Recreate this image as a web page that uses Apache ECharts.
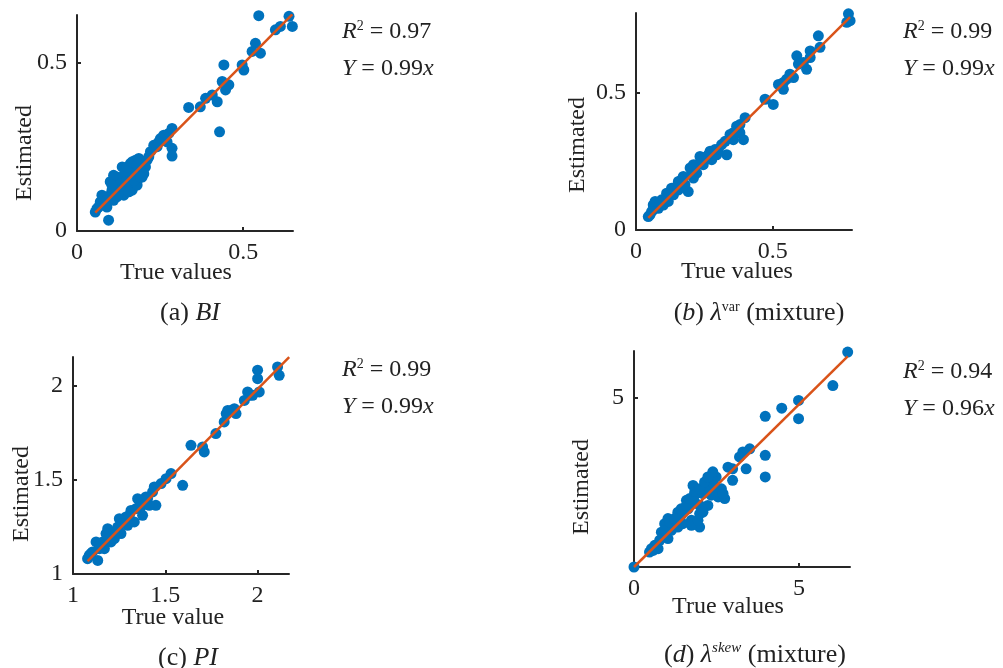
<!DOCTYPE html>
<html>
<head>
<meta charset="utf-8">
<title>Estimated vs true</title>
<script src="https://cdn.jsdelivr.net/npm/echarts@6/dist/echarts.min.js"></script>
<style>
	html,body{margin:0;padding:0;background:#fff;}
	#main{width:1003px;height:668px;}
</style>
</head>
<body>
<div id="main"></div>
<script>
// (a) BI
var bi_true = [0.547,0.638,0.648,0.597,0.612,0.537,0.527,0.552,0.497,0.502,0.442,0.437,0.457,0.447,0.422,0.407,0.387,0.371,0.336,0.429,
	0.286,0.276,0.261,0.251,0.231,0.286,0.286,0.216,0.201,0.176,0.161,0.156,0.191,0.196,0.181,0.141,0.120,0.100,0.131,0.151,
	0.166,0.120,0.100,0.080,0.075,0.065,0.055,0.095,0.110,0.141,0.181,0.206,0.221,0.241,0.271,0.090,0.110,0.136,0.171,0.075,
	0.160,0.145,0.185,0.125,0.105,
	0.110,0.151,0.166,0.181,0.131,0.146,0.171,0.201,0.120,0.090,0.105,0.186,0.211,0.070,0.060,0.156,0.191,0.246];
var bi_est = [0.638,0.636,0.606,0.596,0.606,0.556,0.532,0.527,0.492,0.477,0.492,0.443,0.433,0.418,0.383,0.403,0.393,0.368,0.366,0.294,
	0.304,0.289,0.284,0.274,0.254,0.245,0.222,0.220,0.205,0.210,0.200,0.180,0.180,0.160,0.150,0.165,0.160,0.146,0.141,0.131,
	0.121,0.116,0.106,0.101,0.081,0.071,0.056,0.032,0.091,0.106,0.136,0.190,0.235,0.250,0.264,0.071,0.121,0.190,0.170,0.106,
	0.150,0.175,0.160,0.135,0.120,
	0.165,0.190,0.205,0.195,0.121,0.146,0.150,0.170,0.101,0.091,0.136,0.215,0.210,0.086,0.066,0.116,0.160,0.264];
// (b) lambda var
var var_true = [0.777,0.783,0.771,0.667,0.673,0.637,0.588,0.594,0.624,0.563,0.576,0.539,0.521,0.539,0.472,0.502,0.399,0.368,0.380,0.356,
	0.393,0.344,0.313,0.301,0.332,0.271,0.234,0.277,0.246,0.222,0.198,0.222,0.173,0.155,0.191,0.179,0.130,0.137,0.112,0.094,
	0.118,0.076,0.063,0.051,0.045,0.082,0.100,0.155,0.295,0.265,0.210,0.070,
	0.063,0.088,0.124,0.149,0.167,0.204,0.210,0.240,0.259,0.289,0.326,0.356,0.380,0.551,0.612,0.637,0.057];
var var_est = [0.787,0.762,0.756,0.707,0.665,0.652,0.634,0.604,0.585,0.567,0.555,0.537,0.530,0.512,0.476,0.457,0.409,0.378,0.354,0.329,
	0.329,0.348,0.311,0.293,0.274,0.287,0.268,0.256,0.238,0.238,0.226,0.207,0.195,0.177,0.140,0.165,0.152,0.128,0.134,0.110,
	0.104,0.091,0.073,0.055,0.049,0.079,0.091,0.146,0.274,0.274,0.189,0.104,
	0.091,0.098,0.128,0.159,0.183,0.207,0.238,0.256,0.268,0.293,0.323,0.354,0.384,0.549,0.610,0.628,0.067];
// (c) PI
var pi_true = [2.171,2.108,2.117,2.000,2.000,2.009,1.955,1.928,1.946,1.874,1.856,1.830,1.883,1.819,1.774,1.639,1.702,1.711,1.531,1.504,
	1.594,1.440,1.431,1.449,1.395,1.350,1.377,1.368,1.314,1.287,1.251,1.242,1.260,1.188,1.197,1.206,1.161,1.125,1.143,1.106,
	1.088,1.079,1.134,1.224,1.296,1.332,1.170,
	1.097,1.152,1.179,1.224,1.269,1.305,1.341,1.359,1.404,1.413,1.477,1.838,1.973];
var pi_est = [2.124,2.097,2.053,2.080,2.035,1.965,1.947,1.920,1.965,1.876,1.867,1.850,1.850,1.806,1.744,1.682,1.673,1.647,1.532,1.505,
	1.470,1.461,1.435,1.364,1.408,1.399,1.311,1.355,1.337,1.302,1.293,1.249,1.214,1.240,1.205,1.170,1.170,1.170,1.134,1.117,
	1.099,1.081,1.072,1.187,1.258,1.276,1.134,
	1.108,1.161,1.214,1.223,1.267,1.311,1.346,1.390,1.399,1.364,1.479,1.867,1.947];
// (d) lambda skew
var skew_true = [0,6.48,6.03,4.99,4.99,4.48,3.98,3.98,3.98,3.51,3.30,3.20,3.40,2.85,2.99,2.99,2.49,2.39,2.29,2.65,
	2.75,1.79,1.84,2.09,2.34,2.55,1.59,1.99,2.24,1.64,1.99,1.43,1.33,1.74,1.99,1.03,0.93,1.18,1.48,0.83,
	1.13,1.03,0.78,0.63,0.58,0.47,0.73,1.33,2.14,
	0.93,1.08,1.23,1.43,1.59,1.69,1.89,1.99,2.14,2.44,2.55,2.70,1.84,2.09,1.74,1.33,0.68,0.53,2.39,2.24,1.94];
var skew_est = [0,6.35,5.36,4.92,4.38,4.69,4.45,3.30,2.66,3.49,3.40,3.25,2.90,2.95,2.90,2.56,2.66,2.56,2.41,2.31,
	2.02,2.41,2.21,2.17,2.12,2.07,1.97,1.82,1.82,1.72,1.57,1.53,1.43,1.38,1.18,1.43,1.28,1.23,1.28,1.03,
	1.08,0.84,0.79,0.64,0.49,0.44,0.54,1.62,2.31,
	1.08,1.33,1.43,1.72,1.82,2.02,2.17,2.31,2.51,2.41,2.21,2.17,1.92,1.62,1.23,1.18,0.64,0.54,2.81,2.66,1.38];

// 拟合斜率 / R2
var slopes = [0.99, 0.99, 0.99, 0.96];
var r2s = ['0.97', '0.99', '0.99', '0.94'];

// 刻度
var x_ticks = [[0, 0.5], [0, 0.5], [1, 1.5, 2], [0, 5]];
var y_ticks = [[0, 0.5], [0, 0.5], [1, 1.5, 2], [5]];

var panels = [
	{x: bi_true, y: bi_est, xmin: 0, xmax: 0.65, ymin: 0, ymax: 0.64},
	{x: var_true, y: var_est, xmin: 0, xmax: 0.79, ymin: 0, ymax: 0.79},
	{x: pi_true, y: pi_est, xmin: 1, xmax: 2.17, ymin: 1, ymax: 2.15},
	{x: skew_true, y: skew_est, xmin: 0, xmax: 6.55, ymin: 0, ymax: 6.38}
];

var font = '"Liberation Serif", "Times New Roman", serif';
var grids = [
	{left: 77, top: 15, width: 216, height: 216},
	{left: 636, top: 13, width: 216, height: 217},
	{left: 73, top: 357, width: 216, height: 217},
	{left: 634, top: 351, width: 216, height: 216}
];

var xAxes = [], yAxes = [], series = [];
for (var i = 0; i < panels.length; i++) {
	var p = panels[i];
	xAxes.push({
		type: 'value', gridIndex: i, min: p.xmin, max: p.xmax,
		splitLine: {show: false},
		axisLine: {show: true, onZero: false, lineStyle: {color: '#262626', width: 2}},
		axisTick: {show: true, inside: true, length: 4, customValues: x_ticks[i], lineStyle: {color: '#262626', width: 2}},
		axisLabel: {customValues: x_ticks[i], color: '#222', fontFamily: font, fontSize: 24, margin: 10}
	});
	yAxes.push({
		type: 'value', gridIndex: i, min: p.ymin, max: p.ymax,
		splitLine: {show: false},
		axisLine: {show: true, onZero: false, lineStyle: {color: '#262626', width: 2}},
		axisTick: {show: true, inside: true, length: 4, customValues: y_ticks[i], lineStyle: {color: '#262626', width: 2}},
		axisLabel: {customValues: y_ticks[i], color: '#222', fontFamily: font, fontSize: 24, margin: 10}
	});
	var pts = [];
	var lo = Infinity, hi = -Infinity;
	for (var k = 0; k < p.x.length; k++) {
		pts.push([p.x[k], p.y[k]]);
		if (p.x[k] < lo) lo = p.x[k];
		if (p.x[k] > hi) hi = p.x[k];
	}
	series.push({
		type: 'scatter', xAxisIndex: i, yAxisIndex: i,
		symbolSize: 11, itemStyle: {color: '#0072BD', opacity: 1},
		data: pts, z: 2, silent: true
	});
	series.push({
		type: 'line', xAxisIndex: i, yAxisIndex: i,
		showSymbol: false, lineStyle: {color: '#D95319', width: 2.5},
		data: [[lo, slopes[i] * lo], [hi, slopes[i] * hi]], z: 3, silent: true
	});
}

// 文字
var rich = {
	n: {fontFamily: font, fontSize: 24, color: '#222'},
	i: {fontFamily: font, fontSize: 24, fontStyle: 'italic', color: '#222'},
	c: {fontFamily: font, fontSize: 26, color: '#222'},
	ci: {fontFamily: font, fontSize: 26, fontStyle: 'italic', color: '#222'},
	sup: {fontFamily: font, fontSize: 14, color: '#222', padding: [0, 0, 12, 0]},
	supi: {fontFamily: font, fontSize: 15, fontStyle: 'italic', color: '#222', padding: [0, 0, 14, 0]}
};
function txt(x, y, text, align, rot) {
	return {
		type: 'text', x: x, y: y, rotation: rot || 0, silent: true,
		style: {text: text, rich: rich, align: align || 'center', verticalAlign: 'middle',
			font: '24px ' + font, fill: '#222'}
	};
}
var ylabel_pos = [[25, 153], [578, 145], [22, 494], [582, 487]];
var xlabel_pos = [[176, 273], [737, 272], [173, 618], [728, 607]];
var xlabel_txt = ['True values', 'True values', 'True value', 'True values'];
var ann_pos = [[342, 32], [903, 32], [342, 370], [903, 372]];
var captions = [
	[190, 313, '{c|(a) }{ci|BI}'],
	[759, 313, '{c|(}{ci|b}{c|) }{ci|λ}{sup|var}{c| (mixture)}'],
	[188, 658, '{c|(c) }{ci|PI}'],
	[755, 655, '{c|(}{ci|d}{c|) }{ci|λ}{supi|skew}{c| (mixture)}']
];
var graphic = [];
for (var j = 0; j < 4; j++) {
	graphic.push(txt(ylabel_pos[j][0], ylabel_pos[j][1], '{n|Estimated}', 'center', Math.PI / 2));
	graphic.push(txt(xlabel_pos[j][0], xlabel_pos[j][1], '{n|' + xlabel_txt[j] + '}'));
	graphic.push(txt(ann_pos[j][0], ann_pos[j][1], '{i|R}{sup|2}{n| = ' + r2s[j] + '}', 'left'));
	graphic.push(txt(ann_pos[j][0], ann_pos[j][1] + 37, '{i|Y}{n| = ' + slopes[j].toFixed(2) + '}{i|x}', 'left'));
	graphic.push(txt(captions[j][0], captions[j][1], captions[j][2]));
}

var chart = echarts.init(document.getElementById('main'), null, {renderer: 'canvas'});
chart.setOption({
	animation: false,
	backgroundColor: '#fff',
	grid: grids,
	xAxis: xAxes,
	yAxis: yAxes,
	series: series,
	graphic: graphic
});
</script>
</body>
</html>
